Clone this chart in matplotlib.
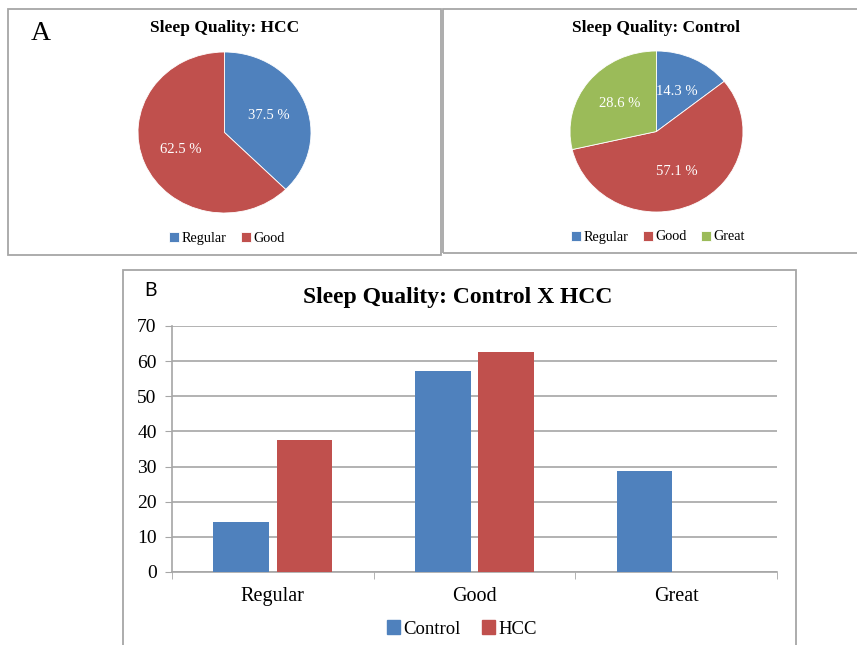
import matplotlib
matplotlib.use('Agg')
import matplotlib.pyplot as plt
from matplotlib.patches import Rectangle, Patch

plt.rcParams['font.family'] = 'Liberation Serif'

W, H = 857, 645

blue = '#4F81BD'
red = '#C0504D'
green = '#9BBB59'
frame_col = '#A6A6A6'

# pie data
hcc_labels = ['Regular', 'Good']
hcc_pct = [37.5, 62.5]
ctrl_labels = ['Regular', 'Good', 'Great']
ctrl_pct = [14.3, 57.1, 28.6]

# bar data
categories = ['Regular', 'Good', 'Great']
control_vals = [14.3, 57.1, 28.6]
hcc_vals = [37.5, 62.5, 0]


def rect(x0, y0, x1, y1):
    # pixel box (top-left origin) -> figure fraction
    return [x0 / W, 1 - y1 / H, (x1 - x0) / W, (y1 - y0) / H]


def fx(x):
    return x / W


def fy(y):
    return 1 - y / H


fig = plt.figure(figsize=(W / 100, H / 100), dpi=100)

# panel frames
for x0, y0, x1, y1 in [(8, 9, 441, 255), (443, 9, 862, 253), (123, 270, 796, 652)]:
    fig.add_artist(Rectangle((fx(x0), fy(y1)), (x1 - x0) / W, (y1 - y0) / H,
                             transform=fig.transFigure, fill=False,
                             ec=frame_col, lw=1.3))


def draw_pie(box, values, labels, colors, title, title_x, legend_xy):
    ax = fig.add_axes(rect(*box))
    wedges, _, autotexts = ax.pie(values, colors=colors, startangle=90,
                                  counterclock=False, autopct='%.1f %%',
                                  pctdistance=0.55,
                                  wedgeprops=dict(linewidth=0.6, edgecolor='white'),
                                  textprops=dict(color='white', fontsize=10.5))
    ax.set_aspect('auto')
    ax.set_xlim(-1, 1)
    ax.set_ylim(-1, 1)
    fig.text(title_x, fy(28), title, ha='center', va='center',
             fontsize=12.5, fontweight='bold')
    fig.legend(wedges, labels, loc='center', bbox_to_anchor=legend_xy,
               ncol=len(labels), frameon=False, fontsize=10.2,
               handlelength=0.7, handleheight=0.7, handletextpad=0.2,
               columnspacing=1.0)
    return ax


draw_pie((138, 52, 311, 213), hcc_pct, hcc_labels, [blue, red],
         'Sleep Quality: HCC', fx(225), (fx(227), fy(238)))
draw_pie((570, 51, 743, 212), ctrl_pct, ctrl_labels, [blue, red, green],
         'Sleep Quality: Control', fx(656), (fx(658), fy(237)))

fig.text(fx(41), fy(33), 'A', ha='center', va='center', fontsize=20)

# grouped bar chart
ax = fig.add_axes(rect(172, 326, 777, 572))
x = range(len(categories))
bw = 0.275
off = 0.157
ax.bar([i - off for i in x], control_vals, bw, color=blue, label='Control', zorder=3)
ax.bar([i + off for i in x], hcc_vals, bw, color=red, label='HCC', zorder=3)
ax.set_xlim(-0.5, 2.5)
ax.set_ylim(0, 70)
ax.set_yticks(range(0, 71, 10))
ax.set_xticks(list(x))
ax.set_xticklabels(categories, fontsize=14.5)
ax.set_xticks([-0.5, 0.5, 1.5, 2.5], minor=True)
ax.tick_params(axis='x', which='major', length=0, pad=11)
ax.tick_params(axis='x', which='minor', length=5, color=frame_col, direction='out')
ax.tick_params(axis='y', length=5, color=frame_col, labelsize=14, pad=6)
ax.yaxis.grid(True, color=frame_col, lw=1.2, zorder=0)
for s in ['top', 'right']:
    ax.spines[s].set_visible(False)
ax.spines['left'].set_color(frame_col)
ax.spines['bottom'].set_color(frame_col)
ax.spines['left'].set_linewidth(1.2)
ax.spines['bottom'].set_linewidth(1.2)

fig.text(fx(458), fy(297), 'Sleep Quality: Control X HCC', ha='center', va='center',
         fontsize=17, fontweight='bold')
fig.text(fx(150), fy(290), 'B', ha='center', va='center', fontsize=14,
         family='Lato')

handles = [Patch(color=blue), Patch(color=red)]
fig.legend(handles, ['Control', 'HCC'], loc='center', bbox_to_anchor=(fx(462), fy(629)),
           ncol=2, frameon=False, fontsize=13.5, handlelength=0.7, handleheight=0.7,
           handletextpad=0.2, columnspacing=1.1)

fig.savefig('out.png', dpi=100)
